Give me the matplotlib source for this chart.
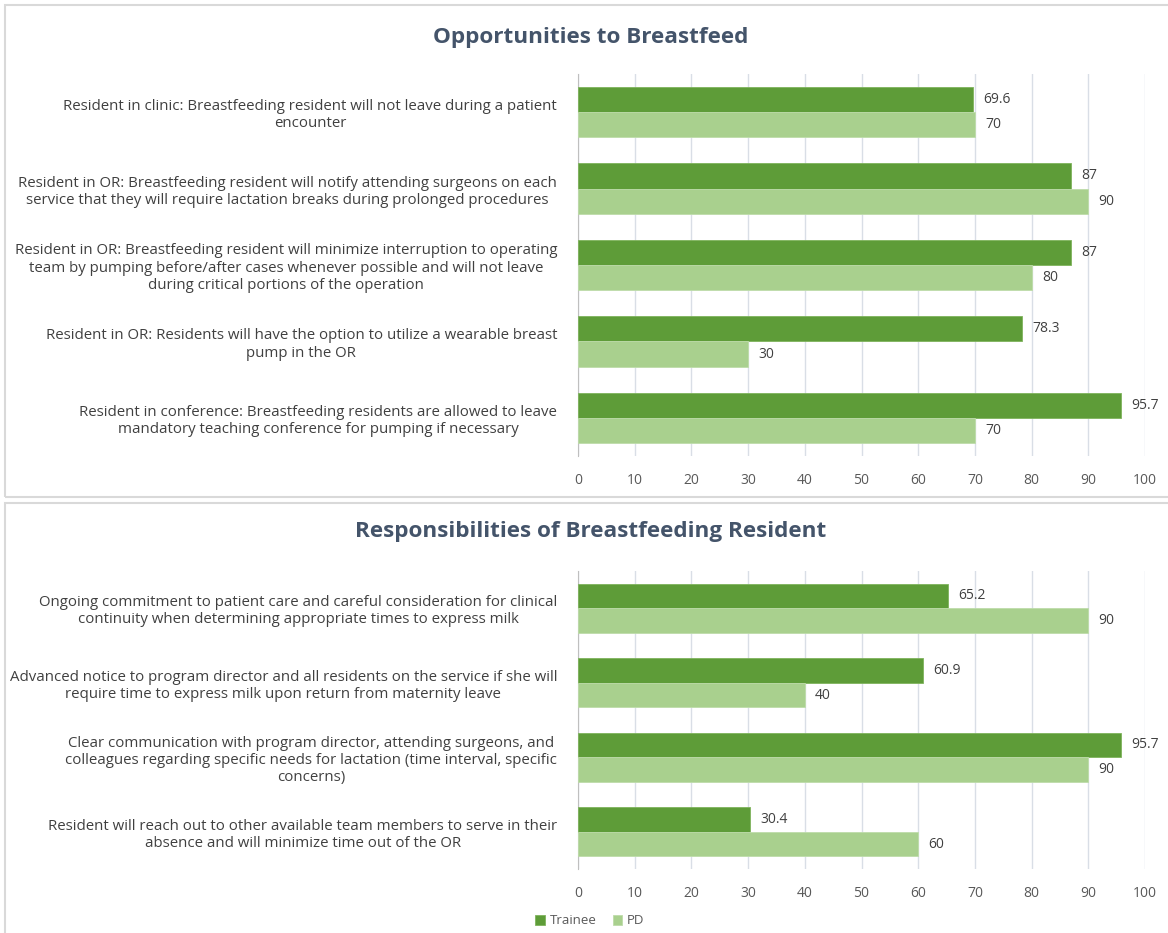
import numpy as np
import matplotlib.pyplot as plt
from matplotlib.patches import Rectangle

plt.rcParams['font.family'] = ['Open Sans', 'DejaVu Sans']

# Datos del panel superior
cats_top = [
    "Resident in clinic: Breastfeeding resident will not leave during a patient\nencounter",
    "Resident in OR: Breastfeeding resident will notify attending surgeons on each\nservice that they will require lactation breaks during prolonged procedures",
    "Resident in OR: Breastfeeding resident will minimize interruption to operating\nteam by pumping before/after cases whenever possible and will not leave\nduring critical portions of the operation",
    "Resident in OR: Residents will have the option to utilize a wearable breast\npump in the OR",
    "Resident in conference: Breastfeeding residents are allowed to leave\nmandatory teaching conference for pumping if necessary",
]
trainee_top = [69.6, 87, 87, 78.3, 95.7]
pd_top = [70, 90, 80, 30, 70]

# Datos del panel inferior
cats_bot = [
    "Ongoing commitment to patient care and careful consideration for clinical\ncontinuity when determining appropriate times to express milk",
    "Advanced notice to program director and all residents on the service if she will\nrequire time to express milk upon return from maternity leave",
    "Clear communication with program director, attending surgeons, and\ncolleagues regarding specific needs for lactation (time interval, specific\nconcerns)",
    "Resident will reach out to other available team members to serve in their\nabsence and will minimize time out of the OR",
]
trainee_bot = [65.2, 60.9, 95.7, 30.4]
pd_bot = [90, 40, 90, 60]

xticks = list(range(0, 101, 10))

C_TRAINEE = '#5E9C38'
C_PD = '#A9D08E'
C_TEXT = '#404040'
C_TITLE = '#44546A'

W, H = 1168, 933
fig = plt.figure(figsize=(W / 100, H / 100), dpi=100)


def px_axes(left, top, right, bottom):
    return fig.add_axes([left / W, 1 - bottom / H, (right - left) / W, (bottom - top) / H])


def draw_panel(ax, cats, trainee, pd, title, title_y):
    y = np.arange(len(cats))
    h = 0.33
    ax.barh(y - h / 2, trainee, height=h, color=C_TRAINEE, edgecolor='#7FB35C', linewidth=0.6, label='Trainee', zorder=3)
    ax.barh(y + h / 2, pd, height=h, color=C_PD, edgecolor='#BEDCAA', linewidth=0.6, label='PD', zorder=3)
    for yi, v in zip(y, trainee):
        ax.text(v + 1.8, yi - h / 2, f"{v:g}", va='center', ha='left', fontsize=10, color=C_TEXT)
    for yi, v in zip(y, pd):
        ax.text(v + 1.8, yi + h / 2, f"{v:g}", va='center', ha='left', fontsize=10, color=C_TEXT)
    ax.set_xlim(0, 100)
    ax.set_ylim(len(cats) - 0.5, -0.5)
    ax.set_xticks(xticks)
    ax.set_yticks(y)
    ax.set_yticklabels(cats, fontsize=10.8, color=C_TEXT)
    for t in ax.get_yticklabels():
        t.set_multialignment('center')
    ax.tick_params(axis='y', length=0, pad=15)
    ax.tick_params(axis='x', length=0, pad=12, labelsize=10, labelcolor='#595959')
    ax.grid(axis='x', color='#D9DEE6', linewidth=1, zorder=0)
    for s in ['top', 'right', 'bottom']:
        ax.spines[s].set_visible(False)
    ax.spines['left'].set_color('#BFBFBF')
    fig.text(591 / W, 1 - title_y / H, title, ha='center', va='center', fontsize=16.2,
             fontweight='bold', color=C_TITLE)


# Marcos de los paneles
fig.patches.append(Rectangle((5 / W, 1 - 497 / H), 1170 / W, 492 / H, transform=fig.transFigure,
                             fill=False, edgecolor='#D9D9D9', linewidth=1.5))
fig.patches.append(Rectangle((5 / W, 1 - 940 / H), 1170 / W, 437 / H, transform=fig.transFigure,
                             fill=False, edgecolor='#D9D9D9', linewidth=1.5))

ax1 = px_axes(578, 74, 1145, 456)
draw_panel(ax1, cats_top, trainee_top, pd_top, "Opportunities to Breastfeed", 37)

ax2 = px_axes(578, 571, 1145, 869)
draw_panel(ax2, cats_bot, trainee_bot, pd_bot, "Responsibilities of Breastfeeding Resident", 532)

handles, labels = ax2.get_legend_handles_labels()
fig.legend(handles, labels, loc='center', bbox_to_anchor=(590 / W, 1 - 921 / H), ncol=2,
           frameon=False, fontsize=9.5, handlelength=0.7, handleheight=0.7,
           columnspacing=1.2, handletextpad=0.4, labelcolor='#595959')

fig.savefig('out.png', dpi=100)
